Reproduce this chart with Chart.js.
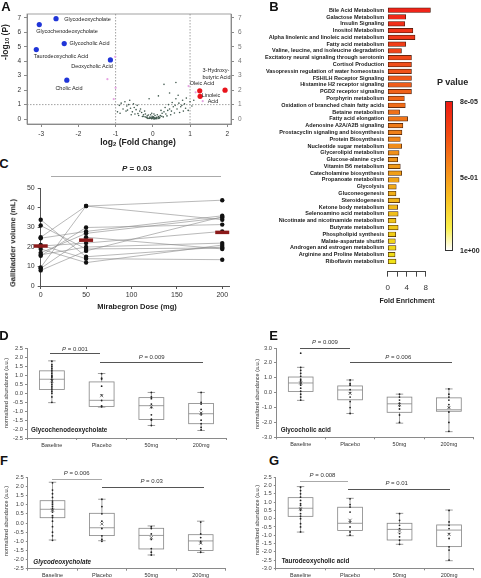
<!DOCTYPE html>
<html>
<head>
<meta charset="utf-8">
<script src="https://cdn.jsdelivr.net/npm/chart.js@4"></script>
<style>
body { margin: 0; background: #fff; }
#fig { position: relative; width: 481px; height: 578px; overflow: hidden; font-family: "Liberation Sans", Arial, sans-serif; color: #222; }
#fig canvas { position: absolute; }
.t { position: absolute; white-space: nowrap; line-height: 1; }
.c { transform: translate(-50%, -50%); }
.l { transform: translateY(-50%); }
.rot { transform: translate(-50%, -50%) rotate(-90deg); }
.b { font-weight: bold; }
.let { font-weight: bold; font-size: 13px; color: #111; }
.lab { font-size: 5.5px; color: #222; }
.pv { font-size: 6px; color: #333; }
.yt { font-size: 5.5px; color: #333; }
.hl { position: absolute; height: 0; border-top: 1px solid #555; }
sub { font-size: 70%; vertical-align: -0.25em; line-height: 0; }
</style>
</head>
<body>
<div id="fig">
  <canvas id="volcano" width="245" height="150" style="left:0;top:0"></canvas>
  <canvas id="pathway" width="195" height="295" style="left:240px;top:0"></canvas>
  <canvas id="volume" width="240" height="122" style="left:0;top:178px"></canvas>
  <canvas id="boxD" width="240" height="110" style="left:0;top:340px"></canvas>
  <canvas id="boxE" width="241" height="110" style="left:240px;top:340px"></canvas>
  <canvas id="boxF" width="240" height="110" style="left:0;top:468px"></canvas>
  <canvas id="boxG" width="241" height="110" style="left:240px;top:468px"></canvas>

  <!-- panel letters -->
  <div class="t let c" style="left:6px;top:6px">A</div>
  <div class="t let c" style="left:274px;top:6px">B</div>
  <div class="t let c" style="left:4px;top:162.5px">C</div>
  <div class="t let c" style="left:4px;top:335px">D</div>
  <div class="t let c" style="left:273.5px;top:335px">E</div>
  <div class="t let c" style="left:4px;top:460px">F</div>
  <div class="t let c" style="left:274px;top:460px">G</div>

  <!-- A -->
  <div class="t b rot" style="left:5px;top:42px;font-size:8.5px">-log<sub>10</sub> (P)</div>
  <div class="t b c" style="left:138px;top:142px;font-size:8.5px">log<sub>2</sub> (Fold Change)</div>
  <div class="t lab c" style="left:87.5px;top:20px">Glycodeoxycholate</div>
  <div class="t lab c" style="left:67px;top:32.3px">Glycochenodeoxycholate</div>
  <div class="t lab c" style="left:89.5px;top:43.7px">Glycocholic Acid</div>
  <div class="t lab c" style="left:61px;top:56.7px">Taurodeoxycholic Acid</div>
  <div class="t lab c" style="left:92px;top:66.7px">Deoxycholic Acid</div>
  <div class="t lab c" style="left:69px;top:88.7px">Cholic Acid</div>
  <div class="t lab c" style="left:216px;top:70.7px">3-Hydroxy-</div>
  <div class="t lab c" style="left:216.5px;top:77.7px">butyric Acid</div>
  <div class="t lab c" style="left:202px;top:84px">Oleic Acid</div>
  <div class="t lab c" style="left:211px;top:95.7px">Linoleic</div>
  <div class="t lab c" style="left:213px;top:101.7px">Acid</div>

  <!-- B -->
  <div class="t b c" style="left:452.7px;top:81.7px;font-size:9px">P value</div>
  <div style="position:absolute;left:445px;top:100.5px;width:6px;height:148px;border:0.8px solid #333;background:linear-gradient(to bottom,#ee1a12 0%,#f24a12 22%,#f58a1a 45%,#f8c021 65%,#faf04a 85%,#ffffff 100%)"></div>
  <div class="t b l" style="left:460px;top:101px;font-size:7px">8e-05</div>
  <div class="t b l" style="left:460px;top:177px;font-size:7px">5e-01</div>
  <div class="t b l" style="left:460px;top:250px;font-size:7px">1e+00</div>
  <div class="t b c" style="left:407px;top:299.5px;font-size:7px">Fold Enrichment</div>

  <!-- C -->
  <div class="t b c" style="left:137px;top:169px;font-size:8px"><i>P</i> = 0.03</div>
  <div class="hl" style="left:51px;top:176px;width:170px;border-color:#aaa"></div>
  <div class="t b rot" style="left:13px;top:243px;font-size:7.5px">Gallbladder volume (mL)</div>
  <div class="t b c" style="left:137px;top:307px;font-size:7.5px">Mirabegron Dose (mg)</div>

  <!-- D -->
  <div class="t pv c" style="left:75px;top:348.7px"><i>P</i> = 0.001</div>
  <div class="hl" style="left:50px;top:353.3px;width:50px"></div>
  <div class="t pv c" style="left:151.7px;top:357px"><i>P</i> = 0.009</div>
  <div class="hl" style="left:100px;top:362px;width:102.7px"></div>
  <div class="t b l" style="left:31px;top:430px;font-size:6.3px">Glycochenodeoxycholate</div>
  <div class="t yt rot" style="left:7.3px;top:393px">normalized abundance (a.u.)</div>

  <!-- E -->
  <div class="t pv c" style="left:325px;top:342.3px"><i>P</i> = 0.009</div>
  <div class="hl" style="left:300px;top:347.7px;width:50px"></div>
  <div class="t pv c" style="left:398.3px;top:356.7px"><i>P</i> = 0.006</div>
  <div class="hl" style="left:350px;top:362.3px;width:101.7px"></div>
  <div class="t b l" style="left:280.7px;top:430px;font-size:6.3px">Glycocholic acid</div>
  <div class="t yt rot" style="left:258.3px;top:394px">normalized abundance (a.u.)</div>

  <!-- F -->
  <div class="t pv c" style="left:76.7px;top:473.3px"><i>P</i> = 0.006</div>
  <div class="hl" style="left:52.3px;top:479px;width:49.4px;border-top:1.5px solid #aaa"></div>
  <div class="t pv c" style="left:151.7px;top:481px"><i>P</i> = 0.03</div>
  <div class="hl" style="left:101.7px;top:487.3px;width:102.3px"></div>
  <div class="t b l" style="left:33.3px;top:561.7px;font-size:6.3px;font-style:italic">Glycodeoxycholate</div>
  <div class="t yt rot" style="left:6.7px;top:520.5px">normalized abundance (a.u.)</div>

  <!-- G -->
  <div class="t pv c" style="left:322.5px;top:475px"><i>P</i> = 0.008</div>
  <div class="hl" style="left:300px;top:480.7px;width:48.3px;border-top:1.5px solid #aaa"></div>
  <div class="t pv c" style="left:396.7px;top:483.3px"><i>P</i> = 0.01</div>
  <div class="hl" style="left:348.3px;top:489.3px;width:101.7px"></div>
  <div class="t b l" style="left:281.7px;top:560.7px;font-size:6.3px">Taurodeoxycholic acid</div>
  <div class="t yt rot" style="left:258px;top:520px">normalized abundance (a.u.)</div>
</div>

<script>
// ---- Panel A: volcano plot ----
const bileAcidX = [-2.60, -3.05, -2.38, -3.13, -1.14, -2.31];
const bileAcidY = [6.94, 6.53, 5.22, 4.80, 4.09, 2.69];
const fattyAcidX = [1.94, 1.26, 1.27];
const fattyAcidY = [2.00, 1.95, 1.57];
const nearX = [-1.01, -1.22, -1.00, -1.05, 1.34, 0.96, 1.15];
const nearY = [4.30, 2.76, 2.16, 1.38, 1.24, 2.28, 1.85];
const otherX = [0.00, 0.05, -0.05, 0.10, -0.10, 0.02, -0.02, 0.08, -0.08, 0.15, -0.15, 0.12, -0.12, 0.20, -0.20,
  0.25, -0.25, 0.30, -0.30, 0.35, -0.35, 0.40, -0.40, 0.45, -0.45, 0.50, -0.50, 0.55, -0.55, 0.60, -0.60,
  0.65, -0.65, 0.70, -0.70, 0.75, -0.75, 0.80, -0.80, 0.85, -0.85, 0.90, -0.90, 0.95, 1.00, 1.05, 1.10, -0.95,
  0.18, -0.18, 0.28, -0.28, 0.38, -0.38, 0.48, -0.48, 0.58, -0.58, 0.03, -0.03, 0.06, -0.06, 0.22, -0.22,
  0.33, -0.33, 0.42, -0.42, 0.52, -0.52, 0.62, -0.62, 0.72, -0.72, 0.82, -0.88, 0.30, 0.15, -0.10, 0.45,
  0.62, 0.04, -0.04, 0.01, -0.01, 0.07, -0.07, 0.11, -0.13, 0.68, 0.78, -0.68, 0.88,
  0.09, -0.09, 0.14, -0.16, 0.19, -0.21, 0.24, -0.26, 0.00, 0.03, -0.03, 0.16, -0.14];
const otherY = [0.05, 0.08, 0.10, 0.12, 0.06, 0.15, 0.20, 0.03, 0.14, 0.18, 0.22, 0.30, 0.28, 0.25, 0.35,
  0.40, 0.30, 0.50, 0.45, 0.35, 0.55, 0.60, 0.38, 0.70, 0.65, 0.55, 0.80, 0.85, 0.50, 0.95, 0.75,
  0.70, 1.00, 1.10, 0.90, 0.85, 1.20, 1.30, 0.70, 1.05, 1.10, 1.45, 0.95, 0.60, 1.20, 0.90, 1.30, 0.50,
  0.08, 0.12, 0.15, 0.18, 0.22, 0.25, 0.30, 0.35, 0.42, 0.30, 0.35, 0.40, 0.25, 0.30, 0.60, 0.55,
  0.80, 0.70, 1.00, 0.95, 1.15, 1.05, 1.40, 1.30, 0.45, 0.55, 0.55, 0.40, 2.40, 1.60, 1.40, 1.80,
  2.53, 0.02, 0.04, 0.09, 0.11, 0.05, 0.07, 0.02, 0.04, 1.65, 0.95, 0.62, 0.75,
  0.06, 0.05, 0.10, 0.09, 0.14, 0.16, 0.20, 0.19, 0.12, 0.01, 0.03, 0.04, 0.07];
const foldCutoffs = [-1, 1];
const pCutoff = 1;
const foldTicks = [-3, -2, -1, 0, 1, 2];
const logPTicks = [0, 1, 2, 3, 4, 5, 6, 7];

// ---- Panel B: pathway enrichment ----
const pathways = ['Bile Acid Metabolism', 'Galactose Metabolism', 'Insulin Signaling', 'Inositol Metabolism',
  'Alpha linolenic and linoleic acid metabolism', 'Fatty acid metabolism', 'Valine, leucine, and isoleucine degradation',
  'Excitatory neural signaling through serotonin', 'Cortisol Production', 'Vasopressin regulation of water homeostasis',
  'FSH/LH Receptor Signaling', 'Histamine H2 receptor signaling', 'PGD2 receptor signaling', 'Porphyrin metabolism',
  'Oxidation of branched chain fatty acids', 'Betaine metabolism', 'Fatty acid elongation', 'Adenosine A2A/A2B signaling',
  'Prostacyclin signaling and biosynthesis', 'Protein Biosynthesis', 'Nucleotide sugar metabolism', 'Glycerolipid metabolism',
  'Glucose-alanine cycle', 'Vitamin B6 metabolism', 'Catecholamine biosynthesis', 'Propanoate metabolism', 'Glycolysis',
  'Gluconeogenesis', 'Steroidogenesis', 'Ketone body metabolism', 'Selenoamino acid metabolism',
  'Nicotinate and nicotinamide metabolism', 'Butyrate metabolism', 'Phospholipid synthesis', 'Malate-aspartate shuttle',
  'Androgen and estrogen metabolism', 'Arginine and Proline Metabolism', 'Riboflavin metabolism'];
const enrichment = [9.0, 3.8, 3.6, 5.3, 5.75, 3.8, 2.9, 5.0, 5.0, 5.0, 5.0, 5.0, 5.0, 3.5, 3.7, 2.5, 4.2, 3.2, 3.0, 2.65,
  2.95, 2.4, 2.1, 2.65, 2.95, 2.4, 1.8, 1.75, 2.5, 2.1, 2.2, 1.75, 2.2, 1.7, 1.6, 1.75, 1.55, 1.75];
const enrichTicks = [0, 2, 4, 6, 8];

// ---- Panel C: gallbladder volume ----
const doses = [0, 50, 200];
const volBaseline = [34, 31, 25, 24.5, 21, 20.5, 19, 17, 16, 15.5, 9.5, 9, 8];
const vol50 = [15, 19, 41, 28, 14, 22, 12, 27, 20, 30, 41, 25, 18];
const vol200 = [20, 19.5, 44, 36, 13.5, 28, 21, 35, 22, 31.5, 34, 19, 35.5];
const volMean = [20.5, 23.5, 27.5];
const doseTicks = [0, 50, 100, 150, 200];
const volTicks = [0, 10, 20, 30, 40, 50];

// ---- Panels D-G: box plots ----
const groups = ['Baseline', 'Placebo', '50mg', '200mg'];

const gcdcaMax = [1.82, 1.11, 0.05, 0.05];
const gcdcaQ3 = [1.26, 0.64, -0.24, -0.57];
const gcdcaMed = [0.79, -0.39, -0.69, -1.14];
const gcdcaQ1 = [0.21, -0.73, -1.46, -1.70];
const gcdcaMin = [-0.52, -0.77, -1.80, -2.08];
const gcdcaMean = [0.70, -0.13, -0.75, -1.10];
const gcdcaDots = [
  [1.8, 1.6, 1.5, 1.4, 1.3, 1.2, 1.1, 1.0, 0.95, 0.9, 0.8, 0.75, 0.7, 0.6, 0.5, 0.4, 0.3, 0.2, 0.1, 0.0, -0.2, -0.5],
  [1.1, 0.85, 0.8, 0.4, -0.1, -0.4, -0.7, -0.75],
  [0.05, -0.2, -0.3, -0.6, -0.8, -1.2, -1.45, -1.5, -1.8],
  [0.05, -0.5, -0.6, -0.9, -1.1, -1.2, -1.5, -1.7, -1.9, -2.05]];

const gcaMax = [1.70, 0.85, -0.10, 0.25];
const gcaQ3 = [1.05, 0.45, -0.30, -0.35];
const gcaMed = [0.65, 0.18, -0.75, -1.15];
const gcaQ1 = [0.08, -0.48, -1.32, -1.25];
const gcaMin = [-0.52, -1.40, -2.05, -2.62];
const gcaMean = [0.65, -0.05, -0.80, -1.00];
const gcaDots = [
  [2.65, 1.7, 1.5, 1.3, 1.1, 0.9, 0.8, 0.7, 0.6, 0.5, 0.3, 0.1, -0.1, -0.3, -0.5],
  [0.85, 0.6, 0.5, 0.2, 0.0, -0.3, -0.6, -1.0, -1.4],
  [-0.1, -0.3, -0.5, -0.7, -0.9, -1.1, -1.5, -2.0],
  [0.25, -0.1, -0.3, -0.5, -0.8, -1.0, -1.3, -2.0, -2.6]];

const gdcaMax = [2.23, 1.30, -0.16, 0.10];
const gdcaQ3 = [1.22, 0.53, -0.29, -0.64];
const gdcaMed = [0.75, -0.26, -0.68, -0.98];
const gdcaQ1 = [0.29, -0.69, -1.42, -1.50];
const gdcaMin = [-0.93, -0.97, -1.75, -1.61];
const gdcaMean = [0.70, -0.05, -0.80, -1.10];
const gdcaDots = [
  [2.2, 1.8, 1.6, 1.4, 1.2, 1.1, 1.0, 0.9, 0.8, 0.7, 0.6, 0.4, 0.3, 0.1, -0.2, -0.5, -0.7, -0.95],
  [1.3, 0.9, 0.5, 0.1, -0.3, -0.7, -0.9, -1.0],
  [-0.2, -0.3, -0.6, -0.9, -1.4, -1.6, -1.75],
  [0.05, -0.6, -0.8, -1.0, -1.1, -1.4, -1.6]];

const tdcaMax = [1.94, 1.23, 0.32, 0.52];
const tdcaQ3 = [1.27, 0.69, -0.28, -0.38];
const tdcaMed = [0.63, -0.28, -0.65, -0.69];
const tdcaQ1 = [0.14, -0.71, -1.29, -1.69];
const tdcaMin = [-0.81, -1.03, -1.55, -2.54];
const tdcaMean = [0.60, -0.10, -0.75, -0.95];
const tdcaDots = [
  [1.9, 1.7, 1.5, 1.3, 1.1, 0.9, 0.8, 0.6, 0.5, 0.3, 0.15, 0.0, -0.3, -0.5, -0.8],
  [1.2, 0.85, 0.7, 0.4, -0.2, -0.5, -0.8, -1.0],
  [0.3, -0.1, -0.4, -0.6, -0.9, -1.1, -1.3, -1.55],
  [0.5, -0.2, -0.4, -0.6, -0.9, -1.2, -1.7, -1.9, -2.5]];

const halfTicks = [-2.5, -2, -1.5, -1, -0.5, 0, 0.5, 1, 1.5, 2, 2.5];
const unitTicks = [-3, -2, -1, 0, 1, 2, 3];
const wideTicks = [-3, -2.5, -2, -1.5, -1, -0.5, 0, 0.5, 1, 1.5, 2, 2.5];

// ---- shared setup ----
Chart.defaults.font.family = "'Liberation Sans', Arial, sans-serif";
Chart.defaults.color = '#333';

const base = {
  responsive: false,
  animation: false,
  devicePixelRatio: 1,
  events: [],
  plugins: { legend: { display: false }, tooltip: { enabled: false } }
};

const fixTicks = values => scale => { scale.ticks = values.map(v => ({ value: v })); };
const fixWidth = w => scale => { scale.width = w; };
const fixHeight = h => scale => { scale.height = h; };

// Panel A
const volcanoGuides = {
  id: 'volcanoGuides',
  beforeDatasetsDraw(chart) {
    const { ctx, chartArea: a, scales: { x, y } } = chart;
    ctx.save();
    ctx.strokeStyle = '#8a8a8a';
    ctx.lineWidth = 0.8;
    ctx.strokeRect(a.left, a.top, a.right - a.left, a.bottom - a.top);
    ctx.setLineDash([1.5, 1.5]);
    ctx.beginPath();
    foldCutoffs.forEach(v => {
      const px = x.getPixelForValue(v);
      ctx.moveTo(px, a.top);
      ctx.lineTo(px, a.bottom);
    });
    const py = y.getPixelForValue(pCutoff);
    ctx.moveTo(a.left, py);
    ctx.lineTo(a.right, py);
    ctx.stroke();
    ctx.restore();
  }
};

const toPoints = (xs, ys) => xs.map((v, i) => ({ x: v, y: ys[i] }));

new Chart(document.getElementById('volcano'), {
  type: 'scatter',
  data: {
    datasets: [
      { data: toPoints(bileAcidX, bileAcidY), pointRadius: 2.6, backgroundColor: '#2035d8', borderWidth: 0 },
      { data: toPoints(fattyAcidX, fattyAcidY), pointRadius: 2.6, backgroundColor: '#e8141c', borderWidth: 0 },
      { data: toPoints(nearX, nearY), pointRadius: 1.1, backgroundColor: '#e6a2e2', borderWidth: 0 },
      { data: toPoints(otherX, otherY), pointRadius: 0.8, backgroundColor: '#41594e', borderWidth: 0 }
    ]
  },
  options: {
    ...base,
    layout: { padding: { top: 14, left: 0, right: 0, bottom: 0 } },
    scales: {
      x: {
        min: -3.38, max: 2.1,
        afterBuildTicks: fixTicks(foldTicks),
        afterFit: fixHeight(26),
        ticks: { font: { size: 6.5 }, color: '#333', padding: 3.5, maxRotation: 0, autoSkip: false },
        grid: { drawOnChartArea: false, tickLength: 3, color: '#8a8a8a' },
        border: { color: '#8a8a8a' }
      },
      y: {
        min: -0.34, max: 7.26,
        afterBuildTicks: fixTicks(logPTicks),
        afterFit: fixWidth(27),
        ticks: { font: { size: 6.5 }, color: '#333', padding: 3, autoSkip: false },
        grid: { drawOnChartArea: false, tickLength: 3, color: '#8a8a8a' },
        border: { color: '#8a8a8a' }
      },
      y2: {
        position: 'right',
        min: -0.34, max: 7.26,
        afterBuildTicks: fixTicks(logPTicks),
        afterFit: fixWidth(14),
        ticks: { font: { size: 6.5 }, color: '#777', padding: 4, autoSkip: false },
        grid: { drawOnChartArea: false, tickLength: 3, color: '#8a8a8a' },
        border: { color: '#8a8a8a' }
      }
    }
  },
  plugins: [volcanoGuides]
});

// Panel B
const barColors = pathways.map((_, i) => `hsl(${3 + 53 * i / (pathways.length - 1)}, 88%, 52%)`);

new Chart(document.getElementById('pathway'), {
  type: 'bar',
  data: {
    labels: pathways.concat(['']),
    datasets: [{
      data: enrichment,
      backgroundColor: barColors,
      borderColor: '#3a1a0c',
      borderWidth: 0.7,
      borderSkipped: false,
      barThickness: 4.6,
      clip: false
    }]
  },
  options: {
    ...base,
    indexAxis: 'y',
    layout: { padding: { top: 2.25, right: 9.3, left: 0, bottom: 0 } },
    scales: {
      y: {
        afterFit: fixWidth(147.7),
        ticks: { font: { size: 5.5, weight: 'bold' }, color: '#1a1a1a', padding: 3.5, autoSkip: false },
        grid: { display: false, drawTicks: false },
        border: { display: false }
      },
      x: {
        min: 0, max: 8,
        afterBuildTicks: fixTicks(enrichTicks),
        afterFit: fixHeight(23.35),
        ticks: {
          font: { size: 8 }, color: '#333', padding: 6,
          maxRotation: 0, minRotation: 0, autoSkip: false,
          callback: v => (v % 4 === 0 ? v : '')
        },
        grid: { drawOnChartArea: false, tickLength: 5, color: '#444' },
        border: { color: '#444' }
      }
    }
  }
});

// Panel C
const subjects = volBaseline.map((b, i) => ({
  data: doses.map((d, j) => ({ x: d, y: [b, vol50[i], vol200[i]][j] })),
  showLine: true,
  borderColor: '#8a8a8a',
  borderWidth: 0.6,
  pointRadius: 2.2,
  pointBackgroundColor: '#111',
  pointBorderWidth: 0,
  clip: false
}));

new Chart(document.getElementById('volume'), {
  type: 'scatter',
  data: {
    datasets: [{
      data: doses.map((d, i) => ({ x: d, y: volMean[i] })),
      pointStyle: 'line',
      pointRadius: 7,
      borderColor: '#8b1a1a',
      borderWidth: 3.5,
      clip: false
    }].concat(subjects)
  },
  options: {
    ...base,
    layout: { padding: { top: 6.3, right: 7, left: 0, bottom: 0 } },
    scales: {
      x: {
        min: 0, max: 208,
        afterBuildTicks: fixTicks(doseTicks),
        afterFit: fixHeight(14),
        ticks: { font: { size: 7 }, color: '#333', padding: 1.5, maxRotation: 0, autoSkip: false },
        grid: { drawOnChartArea: false, tickLength: 3, color: '#555' },
        border: { color: '#555' }
      },
      y: {
        min: 0, max: 50,
        afterBuildTicks: fixTicks(volTicks),
        afterFit: fixWidth(40.7),
        ticks: { font: { size: 7 }, color: '#333', padding: 3, autoSkip: false },
        grid: { drawOnChartArea: false, tickLength: 3, color: '#555' },
        border: { color: '#555' }
      }
    }
  }
});

// Panels D-G
function boxChart(id, st, dots, yMin, yMax, yTicks, lay) {
  const boxes = {
    id: 'boxes',
    beforeDatasetsDraw(chart) {
      const { ctx, scales: { x, y } } = chart;
      const w = (x.getPixelForValue(1) - x.getPixelForValue(0)) * 0.25;
      ctx.save();
      ctx.strokeStyle = '#858585';
      ctx.lineWidth = 0.8;
      groups.forEach((g, i) => {
        const cx = x.getPixelForValue(i);
        const [hi, q3, md, q1, lo] = [st.max[i], st.q3[i], st.med[i], st.q1[i], st.min[i]].map(v => y.getPixelForValue(v));
        ctx.beginPath();
        ctx.moveTo(cx, hi); ctx.lineTo(cx, lo);
        ctx.moveTo(cx - w * 0.3, hi); ctx.lineTo(cx + w * 0.3, hi);
        ctx.moveTo(cx - w * 0.3, lo); ctx.lineTo(cx + w * 0.3, lo);
        ctx.stroke();
        ctx.fillStyle = '#fff';
        ctx.fillRect(cx - w, q3, 2 * w, q1 - q3);
        ctx.strokeRect(cx - w, q3, 2 * w, q1 - q3);
        ctx.beginPath();
        ctx.moveTo(cx - w, md); ctx.lineTo(cx + w, md);
        ctx.stroke();
      });
      ctx.restore();
    }
  };

  new Chart(document.getElementById(id), {
    type: 'scatter',
    data: {
      datasets: [
        {
          data: groups.map((g, i) => ({ x: g, y: st.mean[i] })),
          pointStyle: 'crossRot', pointRadius: 2.2,
          borderColor: '#555', borderWidth: 0.8, backgroundColor: 'transparent'
        },
        {
          data: dots.flatMap((vals, i) => vals.map(v => ({ x: groups[i], y: v }))),
          pointRadius: 0.9, backgroundColor: '#222', borderWidth: 0
        }
      ]
    },
    options: {
      ...base,
      layout: { padding: { top: lay.top, right: lay.right, left: 0, bottom: 0 } },
      scales: {
        x: {
          type: 'category', labels: groups, offset: true,
          afterFit: fixHeight(lay.xh),
          ticks: { font: { size: 5.5 }, color: '#333', padding: lay.xpad, maxRotation: 0, autoSkip: false },
          grid: { offset: true, drawOnChartArea: false, tickLength: 2, color: '#8a8a8a' },
          border: { color: '#8a8a8a' }
        },
        y: {
          min: yMin, max: yMax,
          afterBuildTicks: fixTicks(yTicks),
          afterFit: fixWidth(lay.w),
          ticks: { font: { size: 5.8 }, color: '#444', padding: 2, autoSkip: false, callback: v => v.toFixed(1) },
          grid: { drawOnChartArea: false, tickLength: 2, color: '#8a8a8a' },
          border: { color: '#8a8a8a' }
        }
      }
    },
    plugins: [boxes]
  });
}

boxChart('boxD',
  { max: gcdcaMax, q3: gcdcaQ3, med: gcdcaMed, q1: gcdcaQ1, min: gcdcaMin, mean: gcdcaMean },
  gcdcaDots, -2.5, 2.5, halfTicks, { w: 27, top: 8.7, right: 14, xh: 12, xpad: 2 });
boxChart('boxE',
  { max: gcaMax, q3: gcaQ3, med: gcaMed, q1: gcaQ1, min: gcaMin, mean: gcaMean },
  gcaDots, -3, 3, unitTicks, { w: 36, top: 8, right: 7.4, xh: 12.7, xpad: 2 });
boxChart('boxF',
  { max: gdcaMax, q3: gdcaQ3, med: gdcaMed, q1: gdcaQ1, min: gdcaMin, mean: gdcaMean },
  gdcaDots, -2.5, 2.5, halfTicks, { w: 27.8, top: 9.3, right: 14.6, xh: 9.3, xpad: 1.5 });
boxChart('boxG',
  { max: tdcaMax, q3: tdcaQ3, med: tdcaMed, q1: tdcaQ1, min: tdcaMin, mean: tdcaMean },
  tdcaDots, -3, 2.5, wideTicks, { w: 35.8, top: 9.3, right: 7.2, xh: 9.7, xpad: 1.5 });
</script>
</body>
</html>
